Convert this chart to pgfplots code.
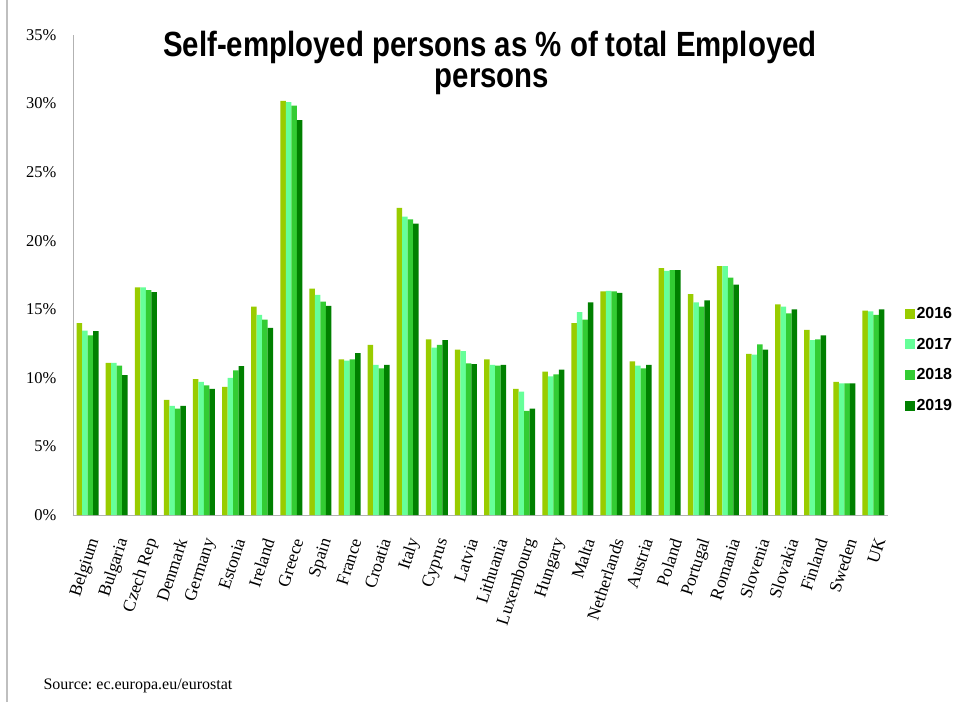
\documentclass[border=0pt]{standalone}
\usepackage{fontspec}
\setmainfont{Liberation Serif}
\newfontfamily\titlefont[FakeStretch=0.84]{Liberation Sans Bold}
\newfontfamily\legfont{Liberation Sans Bold}
\usepackage{pgfplots}
\usepackage{pgfplotstable}
\pgfplotsset{compat=1.18}
\definecolor{cA}{HTML}{99CC00}
\definecolor{cB}{HTML}{66FF99}
\definecolor{cC}{HTML}{33CC33}
\definecolor{cD}{HTML}{008000}
\pgfplotstableread{
x a b c d
0 14.0 13.45 13.1 13.4
1 11.1 11.1 10.9 10.2
2 16.6 16.6 16.4 16.25
3 8.4 7.95 7.75 7.95
4 9.9 9.7 9.45 9.2
5 9.35 10.0 10.55 10.85
6 15.2 14.6 14.25 13.65
7 30.2 30.1 29.85 28.8
8 16.5 16.05 15.55 15.25
9 11.35 11.25 11.35 11.8
10 12.4 10.95 10.7 10.95
11 22.4 21.75 21.55 21.25
12 12.8 12.2 12.4 12.75
13 12.05 11.95 11.05 11.0
14 11.35 10.95 10.9 10.95
15 9.2 9.0 7.6 7.75
16 10.45 10.1 10.25 10.6
17 14.0 14.8 14.25 15.5
18 16.3 16.35 16.3 16.2
19 11.2 10.9 10.7 10.95
20 18.0 17.8 17.85 17.85
21 16.1 15.5 15.2 15.65
22 18.15 18.15 17.3 16.8
23 11.75 11.7 12.45 12.05
24 15.35 15.2 14.7 15.0
25 13.5 12.75 12.8 13.1
26 9.7 9.6 9.6 9.6
27 14.9 14.85 14.6 15.0
}\datatable
\begin{document}
\frenchspacing
\begin{tikzpicture}[x=1pt,y=1pt]
\useasboundingbox (0,0) rectangle (958,702);
\fill[white] (0,0) rectangle (958,702);
\draw[gray!50, line width=1.2pt] (7,0) -- (7,702);
\begin{axis}[
  at={(73pt,187pt)}, anchor=south west,
  width=815pt, height=480pt, scale only axis,
  ybar=0pt, bar width=5.5pt,
  xmin=-0.5, xmax=27.5, ymin=0, ymax=35,
  axis x line*=bottom, axis y line*=left,
  axis line style={gray!60, line width=0.8pt, -},
  major tick length=0pt,
  ytick={0,5,10,15,20,25,30,35},
  yticklabels={0\%,5\%,10\%,15\%,20\%,25\%,30\%,35\%},
  yticklabel style={font=\fontsize{16.5}{18}\selectfont, xshift=-13pt},
  xtick=data,
  xticklabels={Belgium,Bulgaria,Czech Rep,Denmark,Germany,Estonia,Ireland,Greece,Spain,France,Croatia,Italy,Cyprus,Latvia,Lithuania,Luxembourg,Hungary,Malta,Netherlands,Austria,Poland,Portugal,Romania,Slovenia,Slovakia,Finland,Sweden,UK},
  xticklabel style={font=\fontsize{17.5}{19}\selectfont, xshift=7pt, yshift=-24pt, rotate=72, anchor=east, inner sep=0pt},
  legend style={at={(1.02,0.437)}, anchor=north west, draw=none, fill=none,
    font=\legfont\fontsize{16}{18}\selectfont, row sep=14pt, inner sep=0pt,
    /tikz/every even column/.append style={column sep=2pt}},
  legend image code/.code={\fill[#1] (0pt,-5pt) rectangle (10pt,5pt);},
  legend cell align=left,
]
\addplot[fill=cA, draw=none] table[x=x,y=a]{\datatable};
\addplot[fill=cB, draw=none] table[x=x,y=b]{\datatable};
\addplot[fill=cC, draw=none] table[x=x,y=c]{\datatable};
\addplot[fill=cD, draw=none] table[x=x,y=d]{\datatable};
\legend{2016,2017,2018,2019}
\end{axis}
\node[anchor=base, font=\titlefont\fontsize{35}{38}\selectfont] at (490,645) {Self-employed persons as \% of total Employed};
\node[anchor=base, font=\titlefont\fontsize{35}{38}\selectfont] at (492,614) {persons};
\node[anchor=base west, font=\fontsize{16}{18}\selectfont] at (40,13) {Source: ec.europa.eu/eurostat};
\end{tikzpicture}
\end{document}
